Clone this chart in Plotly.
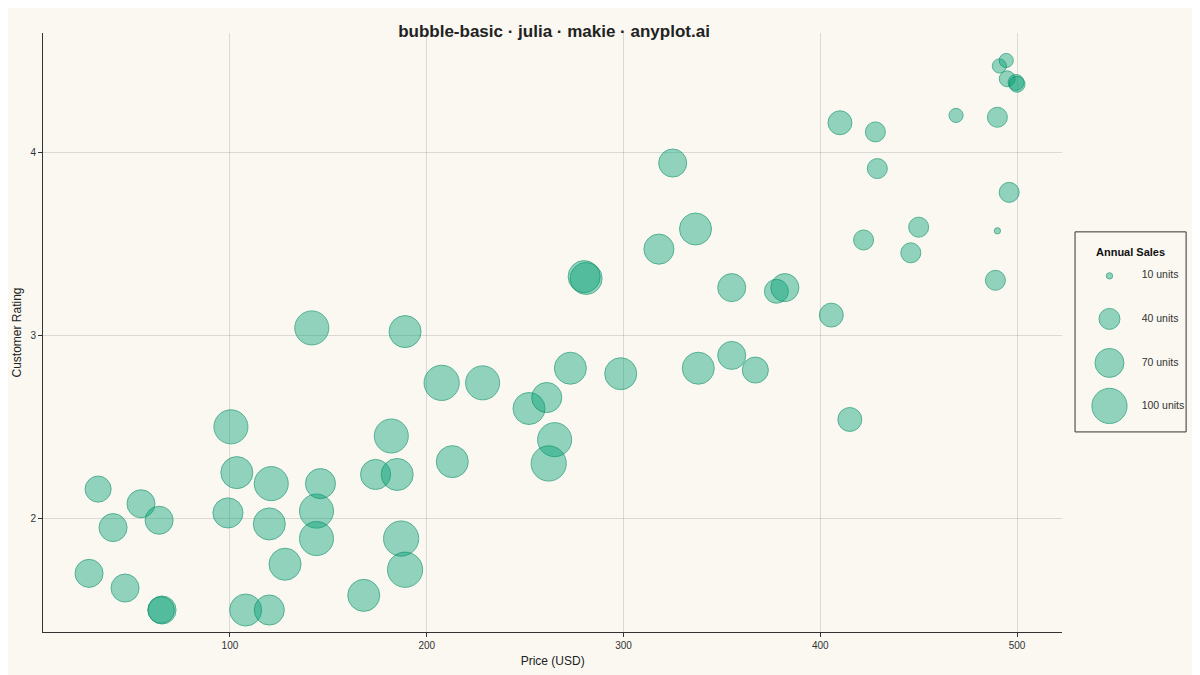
import numpy as np
import plotly.graph_objects as go

price = [28.4, 33, 40.6, 46.7, 54.8, 64, 65.5, 65, 99, 100.5, 103.5, 108, 120, 120, 121, 128,
         144, 144, 146, 141.6, 168, 174, 182, 185, 187, 189, 189, 207.6, 213, 228.4, 252, 261,
         265, 262, 273, 281, 280, 298.6, 318, 325, 336.6, 338, 355, 355, 367, 377.7, 382, 405.6,
         410, 415, 428, 429, 422, 446, 450, 469, 490, 496, 489, 490, 491, 494.5, 495, 499.5, 500]
rating = [1.70, 2.16, 1.95, 1.62, 2.08, 1.99, 1.50, 1.50, 2.03, 2.50, 2.25, 1.50, 1.50, 1.97, 2.19, 1.75,
          2.04, 1.89, 2.19, 3.04, 1.58, 2.24, 2.45, 2.24, 1.89, 1.72, 3.02, 2.74, 2.31, 2.74, 2.60, 2.66,
          2.43, 2.30, 2.82, 3.31, 3.32, 2.79, 3.47, 3.94, 3.58, 2.82, 3.26, 2.89, 2.81, 3.24, 3.26, 3.11,
          4.16, 2.54, 4.11, 3.91, 3.52, 3.45, 3.59, 4.20, 4.19, 3.78, 3.30, 3.57, 4.47, 4.50, 4.40, 4.38, 4.37]
sales = [66, 58, 66, 66, 66, 66, 66, 60, 75, 94, 84, 84, 75, 84, 94, 84,
         94, 94, 75, 94, 84, 75, 94, 84, 100, 100, 84, 100, 84, 94, 84, 75,
         94, 100, 84, 84, 84, 84, 75, 66, 84, 84, 66, 66, 58, 50, 66, 50,
         50, 50, 37, 37, 37, 37, 37, 22, 37, 37, 37, 10, 22, 22, 26, 26, 26]
legend_units = [10, 40, 70, 100]

green = "rgba(0,158,115,0.6)"
edge = "rgba(0,140,100,0.9)"
leg_rows = [0.78, 0.565, 0.345, 0.13]  # legend row positions inside the legend box


def diam(u):
    return 3.65 * np.sqrt(np.maximum(np.asarray(u, dtype=float) - 7, 1))


fig = go.Figure()
fig.add_trace(go.Scatter(x=price, y=rating, mode="markers", showlegend=False,
                         marker=dict(size=diam(sales), color=green, line=dict(color=edge, width=1))))
# hand-built size legend on its own little axes
fig.add_trace(go.Scatter(x=[0.31] * 4, y=leg_rows, mode="markers", showlegend=False,
                         xaxis="x2", yaxis="y2", hoverinfo="skip",
                         marker=dict(size=diam(legend_units), color=green, line=dict(color=edge, width=1))))
fig.add_trace(go.Scatter(x=[0.6] * 4, y=leg_rows, mode="text", showlegend=False,
                         xaxis="x2", yaxis="y2", hoverinfo="skip",
                         text=[f"{u} units" for u in legend_units], textposition="middle right",
                         textfont=dict(size=10.5, color="#333")))

ax = dict(showgrid=True, gridcolor="rgba(0,0,0,0.12)", zeroline=False, showline=True,
          linecolor="#333", ticks="outside", ticklen=4, tickcolor="#333",
          tickfont=dict(size=10, color="#333"), title_font=dict(size=12, color="#222"))
hidden = dict(range=[0, 1], visible=False, fixedrange=True)
fig.update_layout(
    width=1200, height=675, paper_bgcolor="#FAF8F1", plot_bgcolor="#FAF8F1",
    font=dict(family="Liberation Sans, Arial, sans-serif"),
    title=dict(text="<b>bubble-basic · julia · makie · anyplot.ai</b>", x=0.455, y=0.975,
               font=dict(size=17, color="#222")),
    margin=dict(l=32, r=8, t=25, b=51),
    showlegend=False,
    xaxis=dict(ax, domain=[0, 0.881], title=dict(text="Price (USD)", standoff=6), range=[5, 523],
               tickvals=[100, 200, 300, 400, 500]),
    yaxis=dict(ax, title=dict(text="Customer Rating", standoff=6), range=[1.38, 4.65], tickvals=[2, 3, 4]),
    xaxis2=dict(hidden, domain=[0.892, 0.988], anchor="y2"),
    yaxis2=dict(hidden, domain=[0.334, 0.668], anchor="x2"),
    shapes=[dict(type="rect", xref="x2 domain", yref="y2 domain", x0=0, x1=1, y0=0, y1=1,
                 line=dict(color="#333", width=1))],
    annotations=[dict(text="<b>Annual Sales</b>", xref="x2 domain", yref="y2 domain", x=0.5, y=0.94,
                      showarrow=False, font=dict(size=11, color="#111"))],
)
fig.write_html("out.html")
